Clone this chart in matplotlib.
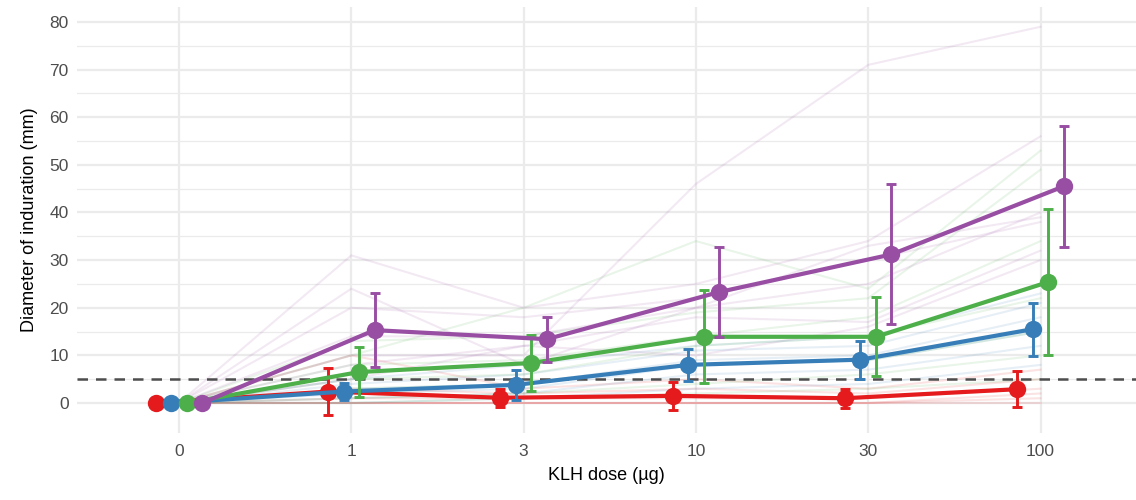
import matplotlib
matplotlib.use("Agg")
import matplotlib.pyplot as plt
import numpy as np
from matplotlib.ticker import FixedLocator

plt.rcParams['font.family'] = ['Liberation Sans', 'DejaVu Sans']

doses = ["0", "1", "3", "10", "30", "100"]
groups = ["red", "blue", "green", "purple"]
colors = ["#E41A1C", "#377EB8", "#4DAF4A", "#984EA3"]

# group means and standard deviations (mm)
mean_red = [0, 2.4, 1.1, 1.5, 1.0, 2.9]
sd_red = [0, 4.9, 1.9, 3.0, 2.0, 3.8]
mean_blue = [0, 2.4, 3.8, 8.0, 9.1, 15.5]
sd_blue = [0, 1.8, 3.1, 3.3, 4.0, 5.6]
mean_green = [0, 6.5, 8.4, 13.9, 13.9, 25.4]
sd_green = [0, 5.3, 5.9, 9.8, 8.3, 15.4]
mean_purple = [0, 15.3, 13.4, 23.3, 31.2, 45.5]
sd_purple = [0, 7.7, 4.7, 9.4, 14.7, 12.7]

# individual subjects (faint lines)
ind_red = [
    [0, 10, 3, 5, 3, 7],
    [0, 3, 2, 3, 2, 5],
    [0, 1, 1, 1, 1, 3],
    [0, 0, 0, 0, 0, 2],
    [0, 0, 0, 0, 0, 1],
    [0, 0, 0, 0, 0, 0],
]
ind_blue = [
    [0, 5, 8, 12, 14, 23],
    [0, 4, 6, 11, 12, 21],
    [0, 3, 4, 9, 10, 18],
    [0, 2, 3, 8, 9, 15],
    [0, 1, 2, 6, 7, 12],
    [0, 0, 1, 3, 4, 8],
]
ind_green = [
    [0, 10, 20, 34, 24, 53],
    [0, 13, 14, 19, 22, 49],
    [0, 8, 9, 14, 18, 34],
    [0, 5, 6, 12, 14, 22],
    [0, 3, 4, 8, 9, 15],
    [0, 1, 2, 4, 6, 10],
    [0, 0, 1, 2, 3, 5],
]
ind_purple = [
    [0, 10, 10, 46, 71, 79],
    [0, 31, 20, 25, 34, 56],
    [0, 24, 8, 20, 33, 39],
    [0, 20, 18, 22, 30, 38],
    [0, 14, 14, 20, 25, 40],
    [0, 8, 12, 18, 17, 32],
    [0, 5, 12, 10, 16, 30],
]

means = [mean_red, mean_blue, mean_green, mean_purple]
sds = [sd_red, sd_blue, sd_green, sd_purple]
inds = [ind_red, ind_blue, ind_green, ind_purple]
threshold = 5

fig = plt.figure(figsize=(11.36, 5.0), dpi=100)
ax = fig.add_axes([77/1136, 67/500, 1059/1136, 426/500])

x = np.arange(len(doses))
offsets = [-0.135, -0.045, 0.045, 0.135]

# grid
ax.set_axisbelow(True)
ax.set_ylim(-6.3, 83.15)
ax.set_xlim(-0.592, 5.554)
ax.yaxis.set_major_locator(FixedLocator(np.arange(0, 81, 10)))
ax.yaxis.set_minor_locator(FixedLocator(np.arange(5, 80, 10)))
ax.set_xticks(x)
ax.set_xticklabels(doses)
ax.grid(which='major', axis='both', color='#EBEBEB', linewidth=1.6)
ax.grid(which='minor', axis='y', color='#EBEBEB', linewidth=0.9)
for s in ax.spines.values():
    s.set_visible(False)
ax.tick_params(which='both', length=0)
ax.tick_params(axis='both', labelsize=12.5, labelcolor='#4D4D4D')
ax.tick_params(axis='x', pad=8)
ax.tick_params(axis='y', pad=6)

# individual faint lines
for col, grp in zip(colors, inds):
    for subj in grp:
        ax.plot(x, subj, color=col, alpha=0.12, linewidth=1.5, zorder=1)

ax.axhline(threshold, color='#4D4D4D', linestyle=(0, (4.2, 3.2)), linewidth=1.8, zorder=2)

for i, (col, m, s) in enumerate(zip(colors, means, sds)):
    xs = x + offsets[i]
    ax.plot(xs, m, color=col, linewidth=3.0, zorder=3 + i)
    ax.errorbar(xs, m, yerr=s, fmt='none', ecolor=col, elinewidth=2.1,
                capsize=3.8, capthick=2.1, zorder=3 + i)
    ax.plot(xs, m, 'o', color=col, markersize=12.5, markeredgewidth=0, zorder=3 + i)

ax.set_xlabel("KLH dose (µg)", fontsize=13, color='black', labelpad=6)
ax.set_ylabel("Diameter of induration (mm)", fontsize=13, color='black', labelpad=8)

fig.savefig("out.png", dpi=100)
